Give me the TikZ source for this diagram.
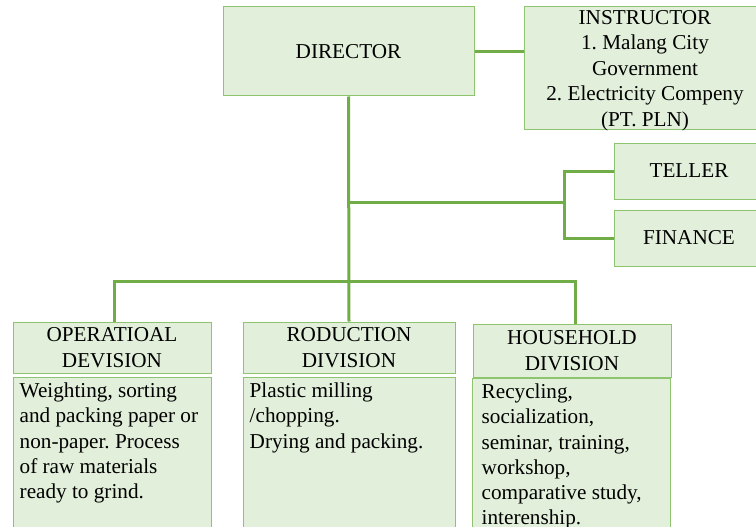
\documentclass[tikz,border=0pt]{standalone}
\usepackage{fontspec}
\setmainfont{Liberation Serif}
\definecolor{boxfill}{HTML}{E2EFDA}
\definecolor{boxline}{HTML}{8FC46F}
\definecolor{conn}{HTML}{70AD47}
\frenchspacing
\begin{document}
\begin{tikzpicture}[x=1pt,y=-1pt,
  box/.style={draw=boxline, fill=boxfill, line width=1pt, inner sep=0pt,
    font=\fontsize{21.2}{25.5}\selectfont, align=center},
  bodytext/.style={inner sep=0pt, anchor=north west, align=left,
    font=\fontsize{21.2}{25.3}\selectfont},
  wire/.style={draw=conn, line width=3pt}]
\useasboundingbox (0,0) rectangle (756,527);
% top row
\node[box, minimum width=251pt, minimum height=89pt] (dir) at (348.5,51.5) {DIRECTOR};
\node[box, minimum width=242pt, minimum height=123pt] (instr) at (645,68.5) {};
\node[inner sep=0pt, align=center, font=\fontsize{21.2}{25.5}\selectfont] (instrt) at (645,70.5)
  {INSTRUCTOR\\1. Malang City\\Government\\2. Electricity Compeny\\(PT. PLN)};
\node[box, minimum width=150pt, minimum height=56pt] (teller) at (689,171) {TELLER};
\node[box, minimum width=150pt, minimum height=56pt] (finance) at (689,238) {FINANCE};
% divisions
\node[box, minimum width=198pt, minimum height=51pt] (op) at (112,347.5) {OPERATIOAL\\DEVISION};
\node[box, minimum width=198pt, minimum height=163pt] (opb) at (112,458.5) {};
\node[box, minimum width=212pt, minimum height=51pt] (prod) at (349,347.5) {RODUCTION\\DIVISION};
\node[box, minimum width=212pt, minimum height=163pt] (prodb) at (349,458.5) {};
\node[box, minimum width=198pt, minimum height=53pt] (house) at (572,350.5) {HOUSEHOLD\\DIVISION};
\node[box, minimum width=198pt, minimum height=163pt] (houseb) at (571,459.5) {};
% body texts
\node[bodytext] (opt) at ([xshift=7pt,yshift=-6pt]opb.north west)
  {Weighting, sorting\\and packing paper or\\non-paper. Process\\of raw materials\\ready to grind.};
\node[bodytext] (prodt) at ([xshift=7pt,yshift=-6pt]prodb.north west)
  {Plastic milling\\/chopping.\\Drying and packing.};
\node[bodytext] (houset) at ([xshift=10pt,yshift=-6pt]houseb.north west)
  {Recycling,\\socialization,\\seminar, training,\\workshop,\\comparative study,\\interenship.};
% connectors
\coordinate (br) at (564,202);
\coordinate (bar) at (349,281);
\draw[wire] (dir.east) -- (dir.east -| instr.west);
\draw[wire] (dir.south) -- (prod.north);
\draw[wire] (dir.south |- br) -- (br);
\draw[wire] (teller.west) -| (br) |- (finance.west);
\draw[wire] ([xshift=2pt]op.north) |- (bar) -| ([xshift=3pt]house.north);
\end{tikzpicture}
\end{document}
